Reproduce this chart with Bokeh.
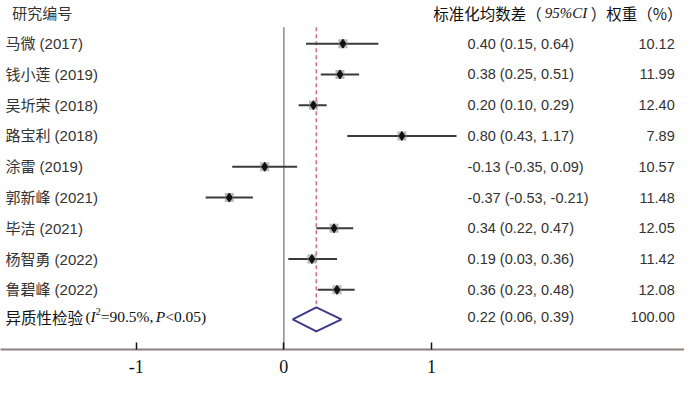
from bokeh.plotting import figure
from bokeh.models import Range1d, ColumnDataSource, FixedTicker
from bokeh.core.properties import value
from bokeh.embed import file_html
from bokeh.resources import INLINE

# ---- data ----
studies = ["马微 (2017)", "钱小莲 (2019)", "吴圻荣 (2018)", "路宝利 (2018)", "涂雷 (2019)",
           "郭新峰 (2021)", "毕洁 (2021)", "杨智勇 (2022)", "鲁碧峰 (2022)"]
smd = [0.40, 0.38, 0.20, 0.80, -0.13, -0.37, 0.34, 0.19, 0.36]
ci_low = [0.15, 0.25, 0.10, 0.43, -0.35, -0.53, 0.22, 0.03, 0.23]
ci_high = [0.64, 0.51, 0.29, 1.17, 0.09, -0.21, 0.47, 0.36, 0.48]
weights = [10.12, 11.99, 12.40, 7.89, 10.57, 11.48, 12.05, 11.42, 12.08]
pooled = [0.22, 0.06, 0.39]
pooled_weight = 100.00
tick_values = [-1, 0, 1]

# ---- layout helpers (reference pixel -> data units) ----
def X(px):
    return (px - 290) / 151.0

def Y(py):
    return (py - 45) / 32.1

W, H = 684, 383
p = figure(width=W, height=H, output_backend="svg", toolbar_location=None,
           x_range=Range1d(X(0), X(700)), y_range=Range1d(Y(364), Y(0)),
           y_axis_location=None, min_border_left=0, min_border_right=0,
           min_border_top=0, min_border_bottom=34)
p.grid.visible = False
p.outline_line_color = None
p.background_fill_color = "white"
p.border_fill_color = "white"

rows = list(range(len(studies)))
src = ColumnDataSource(dict(
    y=rows, smd=smd, lo=ci_low, hi=ci_high, study=studies,
    est=[f"{m:.2f} ({l:.2f}, {h:.2f})" for m, l, h in zip(smd, ci_low, ci_high)],
    w=[f"{v:.2f}" for v in weights],
))

sans = value("Liberation Sans, Noto Sans CJK SC")
serif = value("Liberation Serif")
cjk = value("Noto Sans CJK SC")
txt_col = "#333333"

# zero line and pooled dashed line
p.segment(x0=[0], x1=[0], y0=[Y(28)], y1=[Y(364)], line_color="#9a8e8e", line_width=1.6)
p.segment(x0=[pooled[0]], x1=[pooled[0]], y0=[Y(28)], y1=[Y(347)],
          line_color="#cc7484", line_width=1.6, line_dash="4 3")

# CI lines and markers
p.segment(x0="lo", x1="hi", y0="y", y1="y", source=src, line_color="#3a3a3a", line_width=2)
p.scatter(x="smd", y="y", source=src, marker="square", size=9,
          fill_color="#8a8a8a", fill_alpha=0.6, line_color=None)
p.scatter(x="smd", y="y", source=src, marker="diamond", size=9,
          fill_color="#111111", line_color="#111111")

# pooled diamond
hy = Y(332.5)
hh = 12.5 / 32.1
p.patch(x=[pooled[1], pooled[0], pooled[2], pooled[0]], y=[hy, hy - hh, hy, hy + hh],
        fill_color="white", line_color="#3d3a8c", line_width=2)

# study labels, estimates, weights
p.text(x=X(5), y="y", text="study", source=src, text_font=sans, text_font_size="15px",
       text_color=txt_col, text_baseline="middle", text_align="left")
p.text(x=X(478), y="y", text="est", source=src, text_font=sans, text_font_size="14.5px",
       text_color=txt_col, text_baseline="middle", text_align="left")
p.text(x=X(690), y="y", text="w", source=src, text_font=sans, text_font_size="14.5px",
       text_color=txt_col, text_baseline="middle", text_align="right")

# pooled row texts
p.text(x=[X(478)], y=[hy - 0.06], text=[f"{pooled[0]:.2f} ({pooled[1]:.2f}, {pooled[2]:.2f})"],
       text_font=sans, text_font_size="14.5px", text_color=txt_col,
       text_baseline="middle", text_align="left")
p.text(x=[X(690)], y=[hy - 0.06], text=[f"{pooled_weight:.2f}"],
       text_font=sans, text_font_size="14.5px", text_color=txt_col,
       text_baseline="middle", text_align="right")

# heterogeneity label pieces
ly = hy - 0.08
p.text(x=[X(5)], y=[ly], text=["异质性检验"], text_font=cjk, text_font_size="15.5px",
       text_color="#111111", text_baseline="middle")
p.text(x=[X(87)], y=[ly], text=["("], text_font=serif, text_font_size="15.5px",
       text_color="#111111", text_baseline="middle")
p.text(x=[X(92)], y=[ly], text=["I"], text_font=serif, text_font_style="italic",
       text_font_size="15.5px", text_color="#111111", text_baseline="middle")
p.text(x=[X(97.5)], y=[ly - 0.17], text=["2"], text_font=serif, text_font_size="10px",
       text_color="#111111", text_baseline="middle")
p.text(x=[X(102.5)], y=[ly], text=["=90.5%,"], text_font=serif, text_font_size="15.5px",
       text_color="#111111", text_baseline="middle")
p.text(x=[X(159)], y=[ly], text=["P"], text_font=serif, text_font_style="italic",
       text_font_size="15.5px", text_color="#111111", text_baseline="middle")
p.text(x=[X(168.5)], y=[ly], text=["<0.05)"], text_font=serif, text_font_size="15.5px",
       text_color="#111111", text_baseline="middle")

# headers
hdr_y = Y(13)
p.text(x=[X(12)], y=[hdr_y], text=["研究编号"], text_font=cjk, text_font_size="15px",
       text_color=txt_col, text_baseline="middle")
p.text(x=[X(443)], y=[hdr_y], text=["标准化均数差（"], text_font=cjk, text_font_size="15.5px",
       text_color="#111111", text_baseline="middle")
p.text(x=[X(557)], y=[hdr_y], text=["95%CI"], text_font=serif, text_font_style="italic",
       text_font_size="15px", text_color="#111111", text_baseline="middle")
p.text(x=[X(604)], y=[hdr_y], text=["）权重（%）"], text_font=cjk, text_font_size="15.5px",
       text_color="#111111", text_baseline="middle")

# x axis
ax = p.xaxis[0]
ax.ticker = FixedTicker(ticks=tick_values)
ax.major_label_overrides = {-1: "-1", 0: "0", 1: "1"}
ax.axis_line_color = "#8c8080"
ax.axis_line_width = 2
ax.major_tick_in = 7
ax.major_tick_out = 0
ax.major_tick_line_color = "#111111"
ax.major_tick_line_width = 1.5
ax.minor_tick_line_color = None
ax.major_label_text_font = "Liberation Serif"
ax.major_label_text_font_size = "18px"
ax.major_label_text_color = "#111111"
ax.major_label_standoff = 10

open("out.html", "w").write(file_html(p, INLINE))
